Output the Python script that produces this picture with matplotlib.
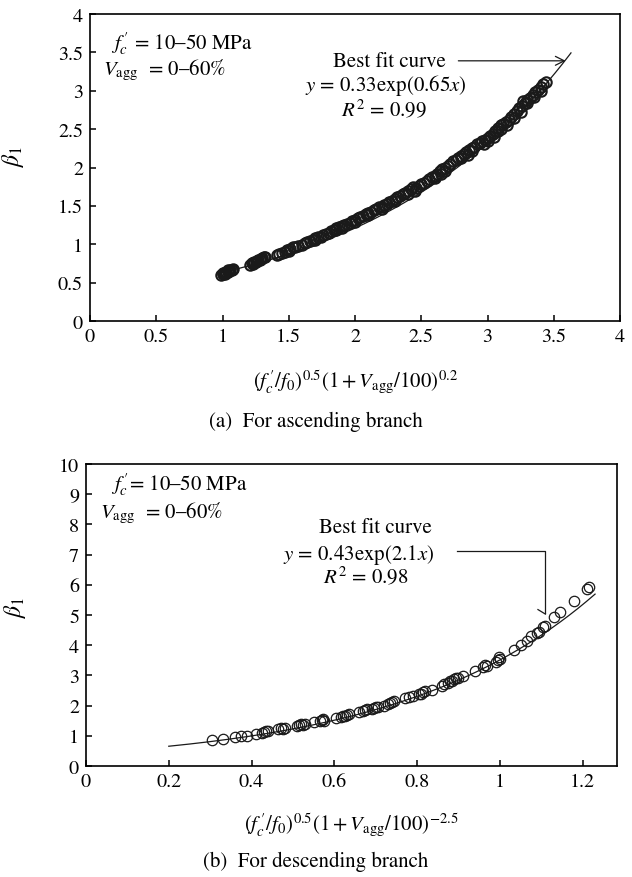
import numpy as np
import matplotlib
matplotlib.use("Agg")
import matplotlib.pyplot as plt

plt.rcParams["font.family"] = ["STIXGeneral", "DejaVu Serif"]
plt.rcParams["mathtext.fontset"] = "stix"

# ── (a) ascending branch: measured points ────────────────────
asc_x = [0.99, 1.00, 1.00, 1.01, 1.02, 1.03, 1.04, 1.05, 1.06, 1.07, 1.08, 1.02, 1.04,
         1.21, 1.22, 1.23, 1.24, 1.25, 1.26, 1.27, 1.28, 1.29, 1.30, 1.31, 1.32, 1.23,
         1.41, 1.43, 1.45, 1.47, 1.49, 1.51, 1.53, 1.55, 1.57, 1.60, 1.62, 1.64, 1.66,
         1.68, 1.70, 1.72, 1.74, 1.76, 1.78, 1.80, 1.82, 1.84, 1.86, 1.88, 1.90, 1.92,
         1.94, 1.96, 1.98, 2.00, 2.02, 2.04, 2.06, 2.08, 2.10, 2.12, 2.14, 2.16, 2.18,
         2.20, 2.22, 2.24, 2.26, 2.28, 2.30, 2.32, 2.34, 2.36, 2.38, 2.40, 2.42, 2.44,
         2.46, 2.48, 2.50, 2.52, 2.54, 2.56, 2.58, 2.60, 2.62, 2.64, 2.66, 2.68, 2.70,
         2.72, 2.74, 2.76, 2.78, 2.80, 2.82, 2.84, 2.86, 2.88, 2.90, 2.92, 2.94, 2.96,
         2.98, 3.00, 3.02, 3.04, 3.06, 3.08, 3.10, 3.12, 3.14, 3.16, 3.18, 3.20, 3.22,
         3.24, 3.26, 3.28, 3.30, 3.32, 3.34, 3.36, 3.38, 3.40, 3.42, 3.44,
         1.50, 1.70, 1.86, 1.90, 2.00, 2.10, 2.20, 2.30, 2.40, 2.45, 2.60, 2.65, 2.68,
         2.80, 2.85, 2.88, 2.97, 3.00, 3.05, 3.08, 3.10, 3.15, 3.20, 3.25, 3.27, 3.30,
         3.35, 3.40]
asc_y = [0.60, 0.61, 0.63, 0.62, 0.63, 0.64, 0.64, 0.65, 0.66, 0.67, 0.68, 0.61, 0.66,
         0.73, 0.75, 0.76, 0.77, 0.77, 0.78, 0.79, 0.80, 0.81, 0.82, 0.83, 0.84, 0.74,
         0.86, 0.87, 0.89, 0.90, 0.92, 0.94, 0.96, 0.97, 0.98, 0.99, 1.01, 1.03, 1.04,
         1.06, 1.08, 1.10, 1.10, 1.12, 1.14, 1.15, 1.17, 1.19, 1.21, 1.22, 1.24, 1.25,
         1.27, 1.28, 1.30, 1.32, 1.34, 1.36, 1.37, 1.39, 1.41, 1.42, 1.44, 1.46, 1.48,
         1.49, 1.51, 1.53, 1.55, 1.57, 1.59, 1.61, 1.63, 1.65, 1.67, 1.69, 1.72, 1.75,
         1.73, 1.76, 1.78, 1.80, 1.82, 1.85, 1.87, 1.89, 1.92, 1.95, 1.98, 2.00, 2.02,
         2.05, 2.08, 2.10, 2.13, 2.15, 2.18, 2.20, 2.23, 2.25, 2.27, 2.30, 2.32, 2.34,
         2.36, 2.38, 2.41, 2.44, 2.47, 2.52, 2.55, 2.57, 2.59, 2.62, 2.66, 2.70, 2.73,
         2.77, 2.80, 2.84, 2.88, 2.91, 2.95, 2.98, 3.01, 3.05, 3.09, 3.12,
         0.91, 1.06, 1.18, 1.21, 1.29, 1.38, 1.46, 1.56, 1.66, 1.70, 1.86, 1.92, 1.96,
         2.12, 2.16, 2.21, 2.31, 2.34, 2.40, 2.48, 2.50, 2.55, 2.64, 2.72, 2.86, 2.84,
         2.92, 3.00]

# best fit y = a*exp(b*x)
asc_a, asc_b = 0.33, 0.65
asc_fit_range = (1.0, 3.63)

# ── (b) descending branch: measured points ───────────────────
des_x = [0.305, 0.330, 0.360, 0.375, 0.390, 0.410, 0.425, 0.430, 0.435, 0.440,
         0.465, 0.470, 0.475, 0.480, 0.510, 0.515, 0.520, 0.525, 0.530, 0.550,
         0.565, 0.570, 0.572, 0.575, 0.605, 0.615, 0.620, 0.625, 0.630, 0.635,
         0.660, 0.670, 0.675, 0.680, 0.690, 0.695, 0.700, 0.705, 0.720, 0.730,
         0.735, 0.740, 0.745, 0.770, 0.780, 0.790, 0.805, 0.810, 0.815, 0.820,
         0.835, 0.860, 0.865, 0.875, 0.880, 0.885, 0.890, 0.895, 0.900, 0.910,
         0.940, 0.960, 0.965, 0.970, 0.990, 0.995, 1.000, 0.998, 1.035, 1.050,
         1.065, 1.075, 1.090, 1.095, 1.110, 1.105, 1.130, 1.145, 1.180, 1.210,
         1.215]
des_y = [0.85, 0.88, 0.97, 0.98, 1.00, 1.05, 1.10, 1.12, 1.15, 1.17,
         1.22, 1.25, 1.24, 1.27, 1.33, 1.37, 1.38, 1.35, 1.40, 1.45,
         1.48, 1.52, 1.55, 1.50, 1.60, 1.62, 1.65, 1.66, 1.70, 1.72,
         1.78, 1.82, 1.85, 1.88, 1.90, 1.93, 1.96, 1.95, 2.00, 2.05,
         2.10, 2.12, 2.15, 2.25, 2.28, 2.32, 2.38, 2.40, 2.45, 2.50,
         2.52, 2.65, 2.70, 2.75, 2.80, 2.82, 2.88, 2.90, 2.92, 2.98,
         3.15, 3.28, 3.35, 3.30, 3.45, 3.50, 3.55, 3.60, 3.85, 4.00,
         4.15, 4.30, 4.40, 4.45, 4.65, 4.60, 4.95, 5.10, 5.45, 5.85,
         5.92]

des_a, des_b = 0.43, 2.1
des_fit_range = (0.2, 1.23)

W, H = 632, 878
fig = plt.figure(figsize=(W / 100, H / 100), dpi=100)


def px_axes(left, right, top, bottom):
    return fig.add_axes([left / W, 1 - bottom / H, (right - left) / W, (bottom - top) / H])


def style(ax):
    for s in ax.spines.values():
        s.set_linewidth(1.2)
    ax.tick_params(direction="in", length=4, width=1.1, labelsize=14.5,
                   top=False, right=False, pad=5)


FS = 15
FC = r"$f^{\,\prime}_{c}$"

# ── panel (a) ────────────────────────────────────────────────
ax1 = px_axes(90, 620, 15, 322)
ax1.plot(asc_x, asc_y, "o", mfc="none", mec="#1a1a1a", ms=7.5, mew=1.5)
xf = np.linspace(*asc_fit_range, 200)
ax1.plot(xf, asc_a * np.exp(asc_b * xf), color="#1a1a1a", lw=0.9)
ax1.set_xlim(0, 4); ax1.set_ylim(0, 4)
ax1.set_xticks(np.arange(0, 4.01, 0.5)); ax1.set_yticks(np.arange(0, 4.01, 0.5))
ax1.set_xticklabels(["0", "0.5", "1", "1.5", "2", "2.5", "3", "3.5", "4"])
ax1.set_yticklabels(["0", "0.5", "1", "1.5", "2", "2.5", "3", "3.5", "4"])
style(ax1)
ax1.set_xlabel(r"$(f^{\,\prime}_{c}/f_0)^{0.5}(1+V_{\rm agg}/100)^{0.2}$", fontsize=FS)
ax1.xaxis.set_label_coords(0.5, -0.15)
ax1.set_ylabel(r"$\beta_1$", fontsize=FS + 2)
ax1.yaxis.set_label_coords(-0.12, 0.54)
ax1.text(0.16, 3.63, FC + " = 10–50 MPa", fontsize=FS, va="center")
ax1.text(0.10, 3.28, r"$V_{\rm agg}$  = 0–60%", fontsize=FS, va="center")
ax1.text(2.26, 3.39, "Best fit curve", fontsize=FS, ha="center", va="center")
ax1.text(2.23, 3.08, r"$y$ = 0.33exp(0.65$x$)", fontsize=FS, ha="center", va="center")
ax1.text(2.22, 2.76, r"$R^2$ = 0.99", fontsize=FS, ha="center", va="center")
ax1.annotate("", xy=(3.59, 3.39), xytext=(2.78, 3.39),
             arrowprops=dict(arrowstyle="->", lw=0.9, color="#1a1a1a",
                             mutation_scale=16, shrinkA=0, shrinkB=0))
fig.text(0.5, 1 - 422 / H, "(a)  For ascending branch", fontsize=FS, ha="center", va="center")

# ── panel (b) ────────────────────────────────────────────────
ax2 = px_axes(86, 617, 465, 767)
ax2.plot(des_x, des_y, "o", mfc="none", mec="#1a1a1a", ms=7.5, mew=0.9)
xf = np.linspace(*des_fit_range, 200)
ax2.plot(xf, des_a * np.exp(des_b * xf), color="#1a1a1a", lw=0.9)
ax2.set_xlim(0, 1.283); ax2.set_ylim(0, 10)
ax2.set_xticks([0, 0.2, 0.4, 0.6, 0.8, 1.0, 1.2])
ax2.set_xticklabels(["0", "0.2", "0.4", "0.6", "0.8", "1", "1.2"])
ax2.set_yticks(range(0, 11))
style(ax2)
ax2.set_xlabel(r"$(f^{\,\prime}_{c}/f_0)^{0.5}(1+V_{\rm agg}/100)^{-2.5}$", fontsize=FS)
ax2.xaxis.set_label_coords(0.5, -0.145)
ax2.set_ylabel(r"$\beta_1$", fontsize=FS + 2)
ax2.yaxis.set_label_coords(-0.11, 0.53)
ax2.text(0.06, 9.34, FC + "= 10–50 MPa", fontsize=FS, va="center")
ax2.text(0.035, 8.4, r"$V_{\rm agg}$  = 0–60%", fontsize=FS, va="center")
ax2.text(0.70, 7.9, "Best fit curve", fontsize=FS, ha="center", va="center")
ax2.text(0.66, 7.02, r"$y$ = 0.43exp(2.1$x$)", fontsize=FS, ha="center", va="center")
ax2.text(0.675, 6.3, r"$R^2$ = 0.98", fontsize=FS, ha="center", va="center")
ax2.plot([0.897, 1.108, 1.108], [7.13, 7.13, 5.05], color="#1a1a1a", lw=0.9)
ax2.plot([1.092, 1.110], [5.18, 5.03], color="#1a1a1a", lw=0.9)
fig.text(0.5, 1 - 862 / H, "(b)  For descending branch", fontsize=FS, ha="center", va="center")

fig.savefig("out.png", dpi=100)
